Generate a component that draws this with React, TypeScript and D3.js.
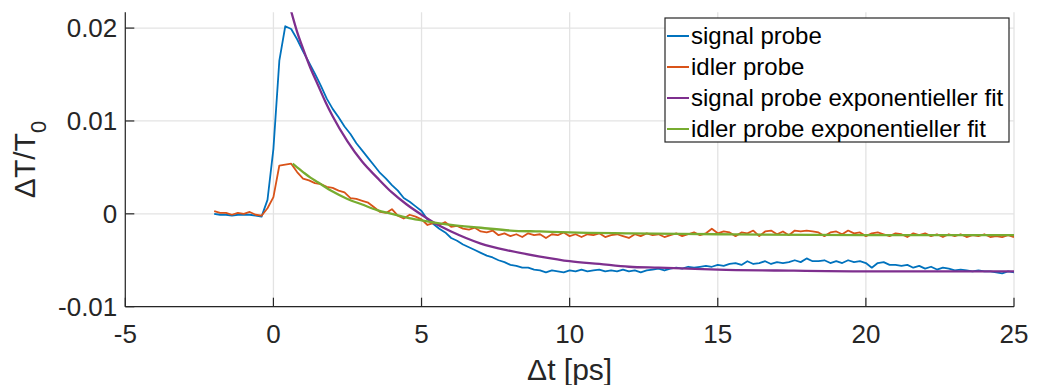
import React from 'react';
import * as d3 from 'd3';

// measurement grid of the two probe traces
const timeStart = -2;
const timeStep = 0.2;

const signalProbe = [
  0.0000, -0.0001, -0.0001, -0.0002, -0.0001, -0.0001, -0.0001, -0.0002, -0.0003, 0.0015,
  0.0070, 0.0165, 0.0202, 0.0199, 0.0188, 0.0175, 0.0163, 0.0151, 0.0138, 0.0124,
  0.0113, 0.0104, 0.0094, 0.0086, 0.0076, 0.0068, 0.0060, 0.0052, 0.0044, 0.0038,
  0.0031, 0.0025, 0.0017, 0.0013, 0.0008, 0.0003, -0.0006, -0.0011, -0.0016, -0.0020,
  -0.0026, -0.0029, -0.0033, -0.0036, -0.0039, -0.0042, -0.0045, -0.0047, -0.0050, -0.0052,
  -0.0055, -0.0056, -0.0058, -0.0058, -0.0060, -0.0061, -0.0063, -0.0061, -0.0062, -0.0063,
  -0.0061, -0.0062, -0.0060, -0.0062, -0.0061, -0.0060, -0.0062, -0.0061, -0.0062, -0.0060,
  -0.0062, -0.0061, -0.0063, -0.0061, -0.0060, -0.0059, -0.0061, -0.0059, -0.0058, -0.0059,
  -0.0057, -0.0058, -0.0057, -0.0056, -0.0057, -0.0055, -0.0056, -0.0054, -0.0053, -0.0055,
  -0.0051, -0.0054, -0.0053, -0.0051, -0.0054, -0.0052, -0.0053, -0.0052, -0.0050, -0.0052,
  -0.0048, -0.0051, -0.0051, -0.0050, -0.0053, -0.0051, -0.0053, -0.0050, -0.0052, -0.0051,
  -0.0053, -0.0058, -0.0053, -0.0052, -0.0055, -0.0055, -0.0056, -0.0055, -0.0058, -0.0056,
  -0.0059, -0.0057, -0.0060, -0.0058, -0.0059, -0.0061, -0.0060, -0.0061, -0.0062, -0.0061,
  -0.0062, -0.0062, -0.0063, -0.0064, -0.0062, -0.0063,
];

const idlerProbe = [
  0.0003, 0.0001, 0.0001, -0.0001, 0.0001, 0.0000, 0.0002, -0.0001, -0.0002, 0.0006,
  0.0018, 0.0052, 0.0053, 0.0054, 0.0045, 0.0038, 0.0036, 0.0033, 0.0032, 0.0029,
  0.0028, 0.0025, 0.0023, 0.0017, 0.0016, 0.0014, 0.0012, 0.0007, 0.0002, 0.0001,
  0.0005, -0.0002, -0.0005, -0.0001, -0.0003, -0.0006, -0.0012, -0.0010, -0.0012, -0.0009,
  -0.0014, -0.0013, -0.0016, -0.0017, -0.0015, -0.0019, -0.0020, -0.0018, -0.0023, -0.0021,
  -0.0024, -0.0022, -0.0025, -0.0021, -0.0023, -0.0022, -0.0026, -0.0022, -0.0023, -0.0020,
  -0.0024, -0.0022, -0.0025, -0.0022, -0.0023, -0.0021, -0.0025, -0.0023, -0.0022, -0.0024,
  -0.0026, -0.0022, -0.0024, -0.0021, -0.0023, -0.0022, -0.0025, -0.0023, -0.0021, -0.0024,
  -0.0022, -0.0020, -0.0023, -0.0021, -0.0016, -0.0021, -0.0019, -0.0020, -0.0024, -0.0020,
  -0.0021, -0.0018, -0.0024, -0.0019, -0.0018, -0.0022, -0.0019, -0.0023, -0.0018, -0.0019,
  -0.0018, -0.0019, -0.0020, -0.0024, -0.0020, -0.0019, -0.0022, -0.0018, -0.0021, -0.0020,
  -0.0024, -0.0021, -0.0020, -0.0022, -0.0024, -0.0021, -0.0022, -0.0025, -0.0021, -0.0023,
  -0.0021, -0.0024, -0.0022, -0.0025, -0.0022, -0.0024, -0.0022, -0.0025, -0.0023, -0.0024,
  -0.0022, -0.0025, -0.0024, -0.0025, -0.0023, -0.0025,
];

const signalFitTime = [0.6, 0.8, 1.0, 1.25, 1.5, 1.75, 2.0, 2.5, 3.0, 3.5, 4.0, 4.5, 5.0, 5.5, 6.0, 6.5, 7.0, 8.0, 9.0, 10.0, 11.0, 12.0, 13.0, 14.0, 15.0, 17.0, 20.0, 25.0];
const signalFitValue = [0.0218, 0.0196, 0.0178, 0.0157, 0.0139, 0.0121, 0.0105, 0.0078, 0.0056, 0.0039, 0.0023, 0.0010, -0.0001, -0.0011, -0.0019, -0.0026, -0.0032, -0.0040, -0.0046, -0.0051, -0.0054, -0.0057, -0.0058, -0.0059, -0.0060, -0.0061, -0.0062, -0.0062];

const idlerFitTime = [0.65, 0.8, 1.0, 1.25, 1.5, 2.0, 2.5, 3.0, 3.5, 4.0, 4.5, 5.0, 6.0, 7.0, 8.0, 9.0, 10.0, 12.0, 15.0, 20.0, 25.0];
const idlerFitValue = [0.0054, 0.0050, 0.0045, 0.0039, 0.0034, 0.0024, 0.0016, 0.0010, 0.0004, 0.0000, -0.0004, -0.0007, -0.0012, -0.0015, -0.0018, -0.0019, -0.0020, -0.0021, -0.0022, -0.0023, -0.0023];

const xTickValues = [-5, 0, 5, 10, 15, 20, 25];
const yTickValues = [-0.01, 0, 0.01, 0.02];
const yTickLabels = ['-0.01', '0', '0.01', '0.02'];
const seriesNames = ['signal probe', 'idler probe', 'signal probe exponentieller fit', 'idler probe exponentieller fit'];
const seriesColors = ['#0072BD', '#D95319', '#7E2F8E', '#77AC30'];

const FONT = '"Liberation Sans", Arial, Helvetica, sans-serif';

export default function App() {
  const W = 1038;
  const H = 385;
  const left = 125.3, right = 1014, top = 12.3, bottom = 306.7;
  const x = d3.scaleLinear().domain([-5, 25]).range([left, right]);
  const y = d3.scaleLinear().domain([-0.01, 0.0217]).range([bottom, top]);

  const probeTime = signalProbe.map((_, i) => timeStart + i * timeStep);
  const dataLine = d3.line<[number, number]>().x(d => x(d[0])).y(d => y(d[1]));
  const fitLine = d3.line<[number, number]>().x(d => x(d[0])).y(d => y(d[1])).curve(d3.curveMonotoneX);

  const series: { pts: [number, number][]; fit: boolean }[] = [
    { pts: probeTime.map((t, i) => [t, signalProbe[i]]), fit: false },
    { pts: probeTime.map((t, i) => [t, idlerProbe[i]]), fit: false },
    { pts: signalFitTime.map((t, i) => [t, signalFitValue[i]]), fit: true },
    { pts: idlerFitTime.map((t, i) => [t, idlerFitValue[i]]), fit: true },
  ];

  const axisColor = '#262626';
  const gridColor = '#e3e3e3';
  const tickLen = 9;

  const legX = 665, legY = 18, legW = 344, legH = 124, rowH = 31;

  return (
    <svg width={W} height={H} style={{ position: 'absolute', left: 0, top: 0, background: '#fff' }} fontFamily={FONT}>
      <defs>
        <clipPath id="plotClip">
          <rect x={left} y={top} width={right - left} height={bottom - top} />
        </clipPath>
      </defs>
      {/* grid */}
      {xTickValues.map(v => (
        <line key={'gx' + v} x1={x(v)} x2={x(v)} y1={top} y2={bottom} stroke={gridColor} strokeWidth={1.3} />
      ))}
      {yTickValues.map(v => (
        <line key={'gy' + v} x1={left} x2={right} y1={y(v)} y2={y(v)} stroke={gridColor} strokeWidth={1.3} />
      ))}
      {/* data */}
      <g clipPath="url(#plotClip)">
        {series.map((s, i) => (
          <path key={i} d={(s.fit ? fitLine : dataLine)(s.pts) || ''} fill="none" stroke={seriesColors[i]}
            strokeWidth={s.fit ? 2.3 : 1.8} strokeLinejoin="round" />
        ))}
      </g>
      {/* axes */}
      <line x1={left} x2={right} y1={bottom} y2={bottom} stroke={axisColor} strokeWidth={1.2} />
      <line x1={left} x2={left} y1={top} y2={bottom} stroke={axisColor} strokeWidth={1.2} />
      {xTickValues.map(v => (
        <g key={'tx' + v}>
          <line x1={x(v)} x2={x(v)} y1={bottom} y2={bottom - tickLen} stroke={axisColor} strokeWidth={1.2} />
          <text x={x(v)} y={bottom + 36} textAnchor="middle" fontSize={26} fill={axisColor}>{v}</text>
        </g>
      ))}
      {yTickValues.map((v, i) => (
        <g key={'ty' + v}>
          <line x1={left} x2={left + tickLen} y1={y(v)} y2={y(v)} stroke={axisColor} strokeWidth={1.2} />
          <text x={left - 8} y={y(v)} dy="0.36em" textAnchor="end" fontSize={26} fill={axisColor}>{yTickLabels[i]}</text>
        </g>
      ))}
      {/* axis labels */}
      <text x={(left + right) / 2} y={380} textAnchor="middle" fontSize={30} fill={axisColor}>Δt [ps]</text>
      <text transform={`translate(35, ${(top + bottom) / 2}) rotate(-90)`} textAnchor="middle" fontSize={30} fill={axisColor}>
        ΔT/T<tspan fontSize={22} dy={11}>0</tspan>
      </text>
      {/* legend */}
      <rect x={legX} y={legY} width={legW} height={legH} fill="#fff" stroke={axisColor} strokeWidth={1.2} />
      {seriesNames.map((n, i) => {
        const cy = legY + 18 + i * rowH;
        return (
          <g key={n}>
            <line x1={legX + 2} x2={legX + 24} y1={cy} y2={cy} stroke={seriesColors[i]} strokeWidth={2} />
            <text x={legX + 26} y={cy} dy="0.35em" fontSize={24} fill="#000">{n}</text>
          </g>
        );
      })}
    </svg>
  );
}
